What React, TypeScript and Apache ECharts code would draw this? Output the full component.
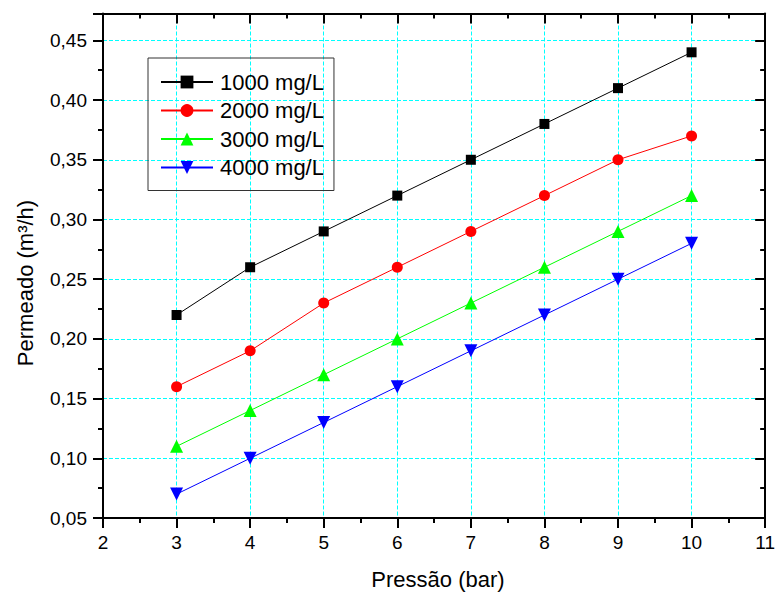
import React, { useEffect, useRef } from "react";
import * as echarts from "echarts";

const pressures = [3, 4, 5, 6, 7, 8, 9, 10];
const s1000 = [0.22, 0.26, 0.29, 0.32, 0.35, 0.38, 0.41, 0.44];
const s2000 = [0.16, 0.19, 0.23, 0.26, 0.29, 0.32, 0.35, 0.37];
const s3000 = [0.11, 0.14, 0.17, 0.2, 0.23, 0.26, 0.29, 0.32];
const s4000 = [0.07, 0.1, 0.13, 0.16, 0.19, 0.22, 0.25, 0.28];
const seriesNames = ["1000 mg/L", "2000 mg/L", "3000 mg/L", "4000 mg/L"];

const FONT = "'Liberation Sans', Arial, sans-serif";

export default function App() {
  const ref = useRef<HTMLDivElement>(null);
  useEffect(() => {
    if (!ref.current) return;
    const chart = echarts.init(ref.current, undefined, { renderer: "svg" });
    const pair = (arr: number[]) => pressures.map((p, i) => [p, arr[i]]);
    const yFmt = (v: number) => {
      const k = Math.round(v / 0.05);
      if (Math.abs(v - k * 0.05) > 1e-6) return "";
      return v.toFixed(2).replace(".", ",");
    };
    const xMin = 2, xMax = 11, yMin = 0.05, yMax = 0.4725;
    const axisLine = { show: true, onZero: false, lineStyle: { color: "#000", width: 2 } };
    const minor = { show: true, splitNumber: 2, length: 5, lineStyle: { color: "#000", width: 2 } };
    const mkSeries = (name: string, data: number[], color: string, symbol: string, size: number) => ({
      name,
      type: "line",
      data: pair(data),
      symbol,
      symbolSize: size,
      itemStyle: { color },
      lineStyle: { color, width: 1 },
      xAxisIndex: 0,
      yAxisIndex: 0,
    });
    chart.setOption({
      animation: false,
      backgroundColor: "#fff",
      grid: { left: 103, top: 13.5, right: 11, bottom: 74 },
      legend: {
        show: true,
        orient: "vertical",
        left: 148,
        top: 58,
        padding: [13, 10, 12, 12],
        borderColor: "#333",
        borderWidth: 1,
        itemWidth: 52,
        itemHeight: 16,
        itemGap: 6.5,
        textStyle: { fontFamily: FONT, fontSize: 22, color: "#000", lineHeight: 22, padding: [0, 0, 0, 2] },
        data: seriesNames,
      },
      xAxis: [
        {
          type: "value",
          min: xMin,
          max: xMax,
          interval: 1,
          position: "bottom",
          axisLine,
          axisTick: { show: true, length: 10, inside: false, lineStyle: { color: "#000", width: 2 } },
          minorTick: minor,
          axisLabel: { fontFamily: FONT, fontSize: 19, color: "#000", margin: 15 },
          splitLine: { show: true, lineStyle: { color: "#00FFFF", type: [4, 2], width: 1 } },
        },
        {
          type: "value",
          min: xMin,
          max: xMax,
          interval: 1,
          position: "top",
          axisLine,
          axisTick: { show: true, length: 10, inside: true, lineStyle: { color: "#000", width: 2 } },
          minorTick: minor,
          axisLabel: { show: false },
          splitLine: { show: false },
        },
      ],
      yAxis: [
        {
          type: "value",
          min: yMin,
          max: yMax,
          interval: 0.05,
          position: "left",
          axisLine,
          axisTick: { show: true, length: 10, inside: false, lineStyle: { color: "#000", width: 2 } },
          minorTick: minor,
          axisLabel: { fontFamily: FONT, fontSize: 19, color: "#000", margin: 16, formatter: yFmt, showMaxLabel: false },
          splitLine: { show: true, lineStyle: { color: "#00FFFF", type: [4, 2], width: 1 } },
        },
        {
          type: "value",
          min: yMin,
          max: yMax,
          interval: 0.05,
          position: "right",
          axisLine,
          axisTick: { show: true, length: 10, inside: true, lineStyle: { color: "#000", width: 2 } },
          minorTick: minor,
          axisLabel: { show: false },
          splitLine: { show: false },
        },
      ],
      graphic: [
        {
          type: "text",
          x: 25,
          y: 283,
          rotation: Math.PI / 2,
          style: {
            text: "Permeado (m³/h)",
            font: `22px ${FONT}`,
            fill: "#000",
            textAlign: "center",
            textVerticalAlign: "middle",
          },
        },
        {
          type: "text",
          x: 438,
          y: 579,
          style: {
            text: "Pressão (bar)",
            font: `22px ${FONT}`,
            fill: "#000",
            textAlign: "center",
            textVerticalAlign: "middle",
          },
        },
      ],
      series: [
        mkSeries(seriesNames[0], s1000, "#000000", "rect", 10),
        mkSeries(seriesNames[1], s2000, "#FF0000", "circle", 11),
        mkSeries(seriesNames[2], s3000, "#00FF00", "triangle", 13),
        { ...mkSeries(seriesNames[3], s4000, "#0000FF", "triangle", 13), symbolRotate: 180 },
      ],
    });
    return () => chart.dispose();
  }, []);
  return <div ref={ref} style={{ width: 778, height: 592, position: "absolute", left: 0, top: 0 }} />;
}
